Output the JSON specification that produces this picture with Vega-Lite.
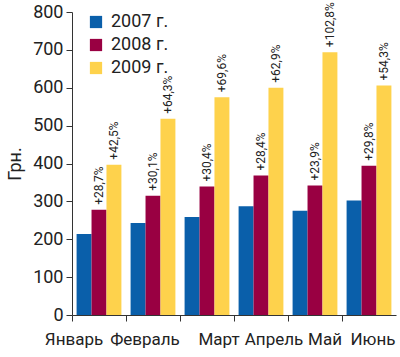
{
  "$schema": "https://vega.github.io/schema/vega-lite/v6.json",
  "autosize": {"type": "none"},
  "width": 324,
  "height": 303,
  "padding": {"left": 72, "top": 12, "right": 4, "bottom": 42},
  "background": "white",
  "config": {
    "view": {"stroke": null},
    "font": "Roboto",
    "axis": {"grid": false, "domainColor": "#333", "tickColor": "#333", "labelColor": "#222", "titleColor": "#222", "labelFont": "Roboto", "titleFont": "Roboto"}
  },
  "data": {
    "values": [
      {"month": "Январь", "year": "2007 г.", "value": 214, "label": ""},
      {"month": "Январь", "year": "2008 г.", "value": 278, "label": "+28,7%"},
      {"month": "Январь", "year": "2009 г.", "value": 397, "label": "+42,5%"},
      {"month": "Февраль", "year": "2007 г.", "value": 243, "label": ""},
      {"month": "Февраль", "year": "2008 г.", "value": 315, "label": "+30,1%"},
      {"month": "Февраль", "year": "2009 г.", "value": 518, "label": "+64,3%"},
      {"month": "Март", "year": "2007 г.", "value": 259, "label": ""},
      {"month": "Март", "year": "2008 г.", "value": 339, "label": "+30,4%"},
      {"month": "Март", "year": "2009 г.", "value": 575, "label": "+69,6%"},
      {"month": "Апрель", "year": "2007 г.", "value": 287, "label": ""},
      {"month": "Апрель", "year": "2008 г.", "value": 368, "label": "+28,4%"},
      {"month": "Апрель", "year": "2009 г.", "value": 600, "label": "+62,9%"},
      {"month": "Май", "year": "2007 г.", "value": 275, "label": ""},
      {"month": "Май", "year": "2008 г.", "value": 342, "label": "+23,9%"},
      {"month": "Май", "year": "2009 г.", "value": 694, "label": "+102,8%"},
      {"month": "Июнь", "year": "2007 г.", "value": 302, "label": ""},
      {"month": "Июнь", "year": "2008 г.", "value": 394, "label": "+29,8%"},
      {"month": "Июнь", "year": "2009 г.", "value": 606, "label": "+54,3%"}
    ]
  },
  "encoding": {
    "x": {
      "field": "month", "type": "nominal", "sort": null,
      "scale": {"paddingInner": 0.17, "paddingOuter": 0.085},
      "axis": {
        "title": null, "labelAngle": 0, "labelFontSize": 17, "labelPadding": 10, "tickSize": 6, "bandPosition": -0.1,
        "labelOverlap": false, "labelBound": false,
        "labelOffset": {"condition": [
          {"test": "datum.value == 'Январь'", "value": -25},
          {"test": "datum.value == 'Февраль'", "value": -8},
          {"test": "datum.value == 'Март'", "value": 12},
          {"test": "datum.value == 'Апрель'", "value": 13},
          {"test": "datum.value == 'Май'", "value": 10}
        ], "value": 4}
      }
    },
    "xOffset": {"field": "year", "type": "nominal", "sort": null, "scale": {"paddingInner": 0, "paddingOuter": 0}},
    "y": {
      "field": "value", "type": "quantitative",
      "scale": {"domain": [0, 800], "nice": false},
      "axis": {"title": "Грн.", "titleFontSize": 18, "titleFontWeight": "normal", "titlePadding": 8, "labelFontSize": 18, "tickCount": 8, "tickSize": 6, "labelPadding": 3}
    }
  },
  "layer": [
    {
      "mark": {"type": "bar"},
      "encoding": {
        "color": {
          "field": "year", "type": "nominal", "sort": null,
          "scale": {"domain": ["2007 г.", "2008 г.", "2009 г."], "range": ["#0a5faa", "#990042", "#fed24c"]},
          "legend": {"title": null, "orient": "none", "legendX": 15, "legendY": 1, "symbolType": "square", "symbolSize": 150, "labelFontSize": 18, "labelColor": "#222", "rowPadding": 5, "labelOffset": 6}
        }
      }
    },
    {
      "mark": {"type": "text", "angle": 270, "align": "left", "baseline": "middle", "dx": 5, "fontSize": 12, "color": "#222"},
      "encoding": {"text": {"field": "label"}}
    }
  ]
}
